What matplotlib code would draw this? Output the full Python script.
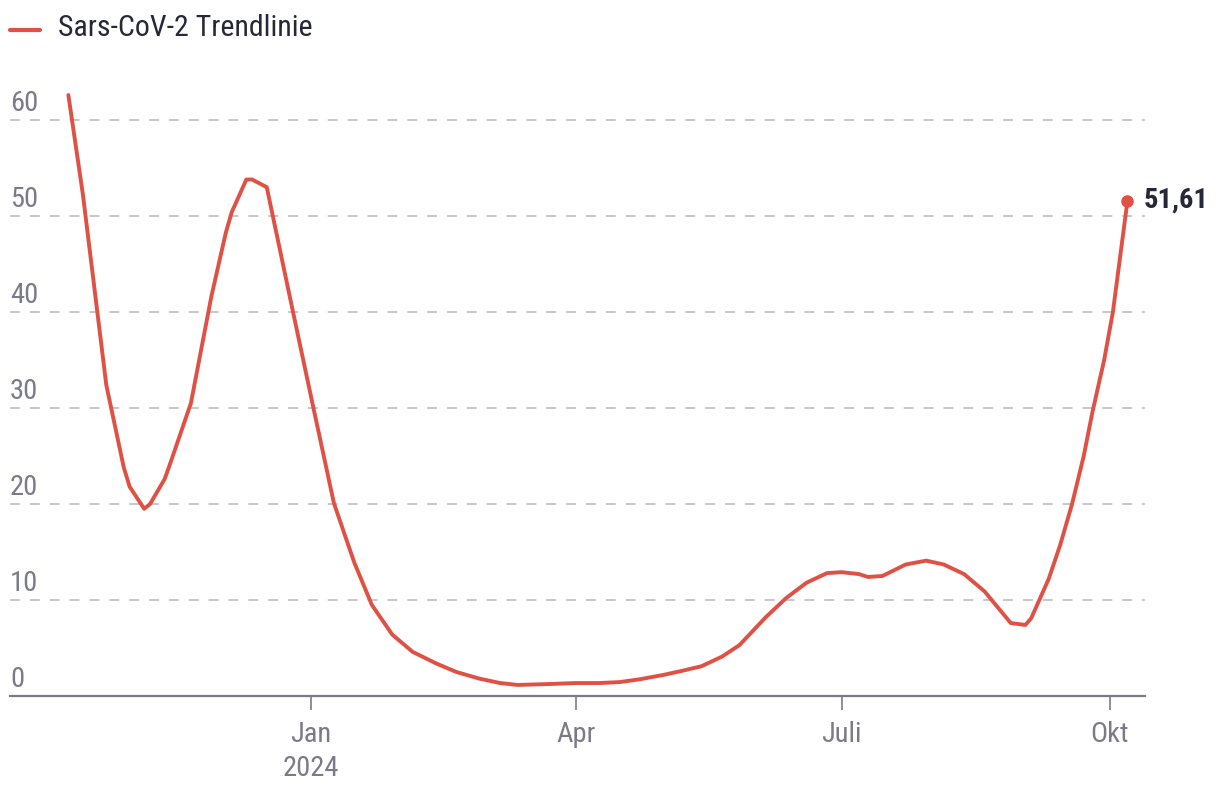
import pandas as pd
import matplotlib
matplotlib.use("Agg")
import matplotlib.pyplot as plt
from matplotlib import font_manager

# Sars-CoV-2 Abwasser-Trendlinie, Werte
dates = ["2023-10-10", "2023-10-15", "2023-10-23", "2023-10-29", "2023-10-31",
         "2023-11-05", "2023-11-07", "2023-11-12", "2023-11-14", "2023-11-21",
         "2023-11-28", "2023-12-03", "2023-12-05", "2023-12-10", "2023-12-12",
         "2023-12-17", "2023-12-26", "2024-01-02", "2024-01-09", "2024-01-16",
         "2024-01-22", "2024-01-29", "2024-02-05", "2024-02-13", "2024-02-20",
         "2024-02-28", "2024-03-06", "2024-03-12", "2024-03-23", "2024-04-01",
         "2024-04-09", "2024-04-16", "2024-04-23", "2024-05-01", "2024-05-07",
         "2024-05-14", "2024-05-21", "2024-05-27", "2024-06-05", "2024-06-12",
         "2024-06-19", "2024-06-26", "2024-07-01", "2024-07-07", "2024-07-10",
         "2024-07-15", "2024-07-23", "2024-07-30", "2024-08-05", "2024-08-12",
         "2024-08-19", "2024-08-28", "2024-09-02", "2024-09-04", "2024-09-10",
         "2024-09-14", "2024-09-18", "2024-09-22", "2024-09-25", "2024-09-29",
         "2024-10-02", "2024-10-07"]
values = [62.6, 52.2, 32.4, 23.8, 21.8,
          19.5, 20.0, 22.6, 24.3, 30.5,
          41.6, 48.3, 50.4, 53.8, 53.8,
          53.0, 40.0, 30.0, 20.1, 13.9,
          9.5, 6.4, 4.6, 3.4, 2.5,
          1.8, 1.35, 1.15, 1.25, 1.35,
          1.35, 1.45, 1.75, 2.2, 2.6,
          3.1, 4.1, 5.3, 8.2, 10.2,
          11.8, 12.8, 12.9, 12.7, 12.4,
          12.5, 13.7, 14.1, 13.7, 12.7,
          10.9, 7.6, 7.4, 8.1, 12.2,
          15.8, 20.0, 25.0, 29.6, 35.0,
          40.0, 51.61]

y_ticks = [0, 10, 20, 30, 40, 50, 60]
x_ticks = ["2024-01-01", "2024-04-01", "2024-07-01", "2024-10-01"]
x_labels = ["Jan\n2024", "Apr", "Juli", "Okt"]
legend_label = "Sars-CoV-2 Trendlinie"
last_label = "51,61"

RED = "#e05145"
GREY = "#7b7a88"
DARK = "#27273a"
GRID = "#c2c1c8"

# schmale Schrift suchen, sonst Roboto
names = {f.name for f in font_manager.fontManager.ttflist}
fam = "Roboto"
size = 17.5
for cand in ["Liberation Sans Narrow", "Roboto Condensed", "Open Sans Condensed"]:
    if cand in names:
        fam = cand
        size = 20
        break
plt.rcParams["font.family"] = [fam, "DejaVu Sans"]

x = pd.to_datetime(dates)

fig = plt.figure(figsize=(12.2, 8), dpi=100)
ax = fig.add_axes([10 / 1220, 1 - 696 / 800, 1135 / 1220, 624 / 800])

ax.plot(x, values, color=RED, lw=2.8, solid_joinstyle="round",
        solid_capstyle="round", zorder=3)
ax.plot(x[-1:], values[-1:], "o", color=RED, ms=8, zorder=4)
ax.annotate(last_label, xy=(x[-1], values[-1]), xytext=(16, 0),
            textcoords="offset pixels", ha="left", va="center",
            fontsize=size + 0.5, fontweight="bold", color=DARK)

ax.set_ylim(0, 65)
ax.set_xlim(pd.Timestamp("2023-09-20"), pd.Timestamp("2024-10-13"))

for v in y_ticks[1:]:
    ax.axhline(v, color=GRID, lw=1.3, ls=(0, (5.5, 5.5)), zorder=1)
for v in y_ticks:
    ax.annotate(str(v), xy=(0, v), xycoords=("axes fraction", "data"),
                xytext=(0, 9), textcoords="offset pixels", ha="left",
                va="baseline", fontsize=size + 0.5, color=GREY)

ax.set_yticks([])
ax.set_xticks(pd.to_datetime(x_ticks))
ax.set_xticklabels(x_labels, fontsize=size + 0.5, color=GREY, linespacing=1.35)
ax.tick_params(axis="x", length=10, width=1.2, color=GREY, pad=8)

for s in ["top", "right", "left"]:
    ax.spines[s].set_visible(False)
ax.spines["bottom"].set_color(GREY)
ax.spines["bottom"].set_linewidth(1.6)

# Legende oben links
fig.lines.append(plt.Line2D([10 / 1220, 40 / 1220], [1 - 30 / 800, 1 - 30 / 800],
                            transform=fig.transFigure, color=RED, lw=3,
                            solid_capstyle="round"))
fig.text(58 / 1220, 1 - 28 / 800, legend_label, ha="left", va="center",
         fontsize=size + 1.5, color=DARK)

fig.savefig("out.png", dpi=100)
